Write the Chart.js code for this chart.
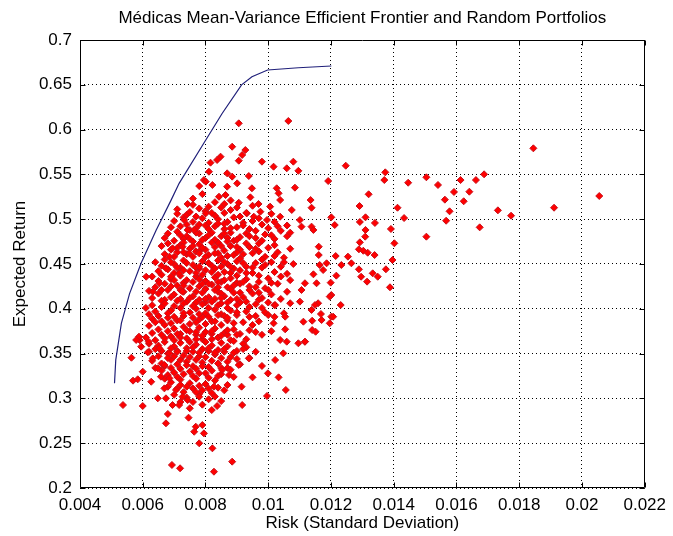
<!DOCTYPE html>
<html>
<head>
<meta charset="utf-8">
<script src="https://cdn.jsdelivr.net/npm/chart.js@4.4.1/dist/chart.umd.min.js"></script>
<style>
  html, body { margin: 0; padding: 0; background: #ffffff; }
  #c { display: block; }
</style>
</head>
<body>
<canvas id="c" width="673" height="536"></canvas>
<script>
const chartTitle = 'Médicas Mean-Variance Efficient Frontier and Random Portfolios';
const xAxisTitle = 'Risk (Standard Deviation)';
const yAxisTitle = 'Expected Return';

const xTickValues = [0.004, 0.006, 0.008, 0.010, 0.012, 0.014, 0.016, 0.018, 0.020, 0.022];
const xTickLabels = ['0.004', '0.006', '0.008', '0.01', '0.012', '0.014', '0.016', '0.018', '0.02', '0.022'];
const yTickValues = [0.2, 0.25, 0.3, 0.35, 0.4, 0.45, 0.5, 0.55, 0.6, 0.65, 0.7];
const yTickLabels = ['0.2', '0.25', '0.3', '0.35', '0.4', '0.45', '0.5', '0.55', '0.6', '0.65', '0.7'];

// Efficient frontier (risk, expected return)
const frontierRisk = [0.00510, 0.00514, 0.00532, 0.00558, 0.00595, 0.00643, 0.00690, 0.00716, 0.00795, 0.00853, 0.00915, 0.00948, 0.00998, 0.01096, 0.01201];
const frontierReturn = [0.317, 0.343, 0.384, 0.417, 0.451, 0.488, 0.521, 0.540, 0.585, 0.618, 0.650, 0.659, 0.6665, 0.669, 0.671];

// Random portfolios: sparse right-hand points
const portfoliosRight = [
[0.01096,0.554],[0.01247,0.5597],[0.01191,0.5426],[0.01373,0.5523],[0.0137,0.5437],[0.01135,0.5214],[0.01138,0.5128],[0.01291,0.5147],[0.0132,0.5278],[0.01446,0.5407],
[0.01504,0.5468],[0.01541,0.5382],[0.01592,0.5304],[0.01613,0.5437],[0.01662,0.5437],[0.01688,0.5501],[0.01641,0.5307],[0.01623,0.52],[0.01563,0.5218],[0.01578,0.5088],
[0.01567,0.4983],[0.01412,0.5128],[0.01433,0.5013],[0.01504,0.4805],[0.01674,0.4909],[0.01732,0.5099],[0.01774,0.5039],[0.01845,0.5791],[0.01911,0.5128],[0.02055,0.5259],
[0.01391,0.4891],[0.01402,0.4731],[0.01396,0.4545],[0.01375,0.4441],[0.01388,0.424],[0.0134,0.4958],[0.0131,0.5021],[0.01292,0.4969],[0.0131,0.488],[0.01309,0.4805],
[0.01292,0.4742],[0.01339,0.46],[0.01289,0.4664],[0.01303,0.4648],[0.01317,0.4626],[0.01289,0.4441],[0.01333,0.4396],[0.01349,0.4358],[0.01296,0.4358],[0.01315,0.4303],
[0.01254,0.4582],[0.01265,0.4508],[0.01233,0.4489],[0.01215,0.4589],[0.01186,0.4508],[0.01217,0.437],[0.01199,0.4292],[0.01231,0.4042],[0.01201,0.4154],[0.01161,0.4693],
[0.01161,0.46],[0.01201,0.5021],[0.01212,0.4935],[0.01138,0.4917],[0.01144,0.488],[0.01101,0.4991],[0.01106,0.4917],[0.01164,0.4489],[0.01175,0.4433],[0.01144,0.4385],
[0.01117,0.4285],[0.01154,0.4285],[0.01106,0.421],[0.01196,0.4136],[0.01138,0.3987],[0.01101,0.408],[0.01159,0.4062],[0.01201,0.3912],[0.01112,0.3856],[0.0117,0.3875],
[0.01149,0.4042],[0.01207,0.3912],[0.01196,0.3838],[0.01168,0.3942],[0.0114,0.3867],[0.0114,0.3763],[0.01151,0.3744],[0.01117,0.3633],[0.01096,0.3615]
];

// Random portfolios: lower / left outer points
const portfoliosLower = [
[0.00537,0.2926],[0.0060,0.2915],[0.00564,0.3454],[0.00569,0.3198],[0.00584,0.3213],[0.00588,0.3689],[0.00579,0.3652],[0.00595,0.3577],[0.00619,0.3633],[0.00616,0.3514],
[0.006,0.3298],[0.00632,0.3447],[0.00653,0.3559],[0.00648,0.3336],[0.00627,0.3186],[0.00658,0.3242],[0.00669,0.3112],[0.00685,0.3224],[0.00648,0.3001],[0.00674,0.3001],
[0.00695,0.2926],[0.00716,0.2926],[0.0068,0.2826],[0.00674,0.2722],[0.00746,0.2785],[0.00769,0.2684],[0.00764,0.2628],[0.0078,0.2499],[0.00693,0.2257],[0.00719,0.222],
[0.00669,0.3373],[0.00685,0.3503],[0.00706,0.3094],[0.00727,0.3019],[0.00743,0.2982],[0.0078,0.3019],[0.00837,0.2915],[0.00822,0.2443],[0.00885,0.2294],[0.00827,0.2182],
[0.00795,0.261],[0.0079,0.2703],[0.00917,0.2926],[0.00915,0.3131],[0.0095,0.3235],[0.00996,0.3027],[0.01056,0.3094],[0.01033,0.3235],[0.0098,0.3362],[0.00999,0.328],
[0.01022,0.3429],[0.01048,0.3503],[0.00853,0.3317],[0.00827,0.3131],[0.00875,0.3261],[0.00906,0.3373],[0.00938,0.3447],[0.01038,0.3652],[0.01059,0.3633],[0.01117,0.3633],
[0.01017,0.3838],[0.01054,0.3912],[0.01022,0.4042],[0.0107,0.4062],[0.01054,0.3771]
];

// Random portfolios: upper points
const portfoliosUpper = [
[0.00906,0.607],[0.01064,0.6096],[0.00885,0.5809],[0.00927,0.5772],[0.00917,0.5717],[0.00848,0.5698],[0.00837,0.5661],[0.00816,0.5631],[0.00906,0.5653],[0.0098,0.5642],
[0.01017,0.5586],[0.0108,0.5642],[0.01059,0.5568],[0.00811,0.553],[0.00869,0.5512],[0.00885,0.5475],[0.00938,0.5482],[0.00795,0.5437],[0.00822,0.5382],[0.00869,0.5363],
[0.00901,0.54],[0.00948,0.5345],[0.01027,0.5345],[0.01085,0.5352],[0.00843,0.5251],[0.00864,0.527],[0.00943,0.5244],[0.01033,0.5289],[0.00969,0.517],[0.01006,0.514],
[0.01038,0.5214],[0.00906,0.5184],[0.0088,0.5103],[0.00932,0.5066],[0.00975,0.5084],[0.01075,0.5103],[0.01038,0.5028],[0.00996,0.4991],[0.00954,0.5028],
[0.00801,0.5419],[0.0078,0.537],[0.00743,0.517],[0.00732,0.4991],[0.00801,0.5066],[0.00764,0.488],[0.00743,0.488],[0.00727,0.4693],[0.00748,0.4619],[0.00695,0.4675],
[0.00685,0.4582],[0.00674,0.4452],[0.00611,0.4358],[0.00632,0.4191],[0.00653,0.4285],[0.0069,0.4358],[0.00716,0.4396],[0.0078,0.4619],[0.0078,0.447],[0.00727,0.4191],
[0.0076,0.523],[0.0079,0.528],[0.0083,0.519],[0.0088,0.521],[0.0078,0.512],[0.0085,0.513],[0.0075,0.508],[0.0071,0.506],[0.0082,0.507],[0.0093,0.507]
];

// Random portfolios: central cloud
const portfoliosCore = [
[0.0070,0.498],[0.0073,0.502],[0.0076,0.497],[0.0079,0.501],[0.0081,0.496],[0.0084,0.500],[0.0087,0.497],[0.0089,0.502],[0.0092,0.496],[0.0095,0.498],
[0.0098,0.494],[0.0102,0.497],[0.0106,0.493],[0.0072,0.492],[0.0077,0.490],[0.0083,0.492],[0.0086,0.489],[0.0090,0.491],[0.0094,0.489],[0.0100,0.490],[0.0104,0.487],
[0.0068,0.484],[0.0071,0.486],[0.0074,0.481],[0.0078,0.484],[0.0080,0.479],[0.0082,0.485],[0.0085,0.481],[0.0088,0.485],[0.0091,0.480],[0.0093,0.484],
[0.0096,0.479],[0.0099,0.483],[0.0102,0.478],[0.0106,0.481],[0.0070,0.476],[0.0076,0.475],[0.0084,0.474],[0.0089,0.476],[0.0097,0.473],
[0.0066,0.470],[0.0069,0.466],[0.0072,0.471],[0.0075,0.467],[0.0078,0.472],[0.0080,0.466],[0.0083,0.469],[0.0086,0.465],[0.0088,0.470],[0.0091,0.466],
[0.0094,0.469],[0.0097,0.464],[0.0100,0.468],[0.0103,0.463],[0.0107,0.467],[0.0074,0.461],[0.0081,0.460],[0.0087,0.459],[0.0092,0.461],[0.0099,0.458],[0.0105,0.457],
[0.0064,0.452],[0.0067,0.455],[0.0070,0.450],[0.0073,0.454],[0.0076,0.449],[0.0079,0.453],[0.0082,0.448],[0.0084,0.454],[0.0087,0.450],[0.0090,0.453],
[0.0093,0.447],[0.0096,0.451],[0.0098,0.446],[0.0101,0.452],[0.0104,0.447],[0.0108,0.450],[0.0068,0.444],[0.0075,0.442],[0.0080,0.443],[0.0086,0.441],
[0.0091,0.443],[0.0095,0.440],[0.0102,0.441],[0.0106,0.439],
[0.0063,0.436],[0.0066,0.438],[0.0069,0.433],[0.0072,0.437],[0.0074,0.432],[0.0077,0.436],[0.0080,0.431],[0.0083,0.435],[0.0085,0.430],[0.0088,0.434],
[0.0090,0.429],[0.0093,0.433],[0.0097,0.430],[0.0100,0.434],[0.0103,0.428],[0.0107,0.432],[0.0071,0.426],[0.0078,0.425],[0.0082,0.427],[0.0087,0.424],[0.0094,0.425],[0.0099,0.423],
[0.0062,0.420],[0.0065,0.417],[0.0068,0.421],[0.0070,0.416],[0.0073,0.419],[0.0076,0.414],[0.0079,0.418],[0.0081,0.413],[0.0084,0.419],[0.0086,0.414],
[0.0089,0.418],[0.0092,0.413],[0.0095,0.417],[0.0098,0.412],[0.0101,0.416],[0.0104,0.411],[0.0067,0.410],[0.0074,0.408],[0.0080,0.407],[0.0085,0.406],
[0.0091,0.407],[0.0096,0.405],[0.0102,0.404],
[0.0061,0.401],[0.0064,0.397],[0.0066,0.402],[0.0069,0.398],[0.0072,0.401],[0.0075,0.396],[0.0077,0.400],[0.0080,0.395],[0.0083,0.399],[0.0085,0.394],
[0.0088,0.398],[0.0090,0.393],[0.0093,0.397],[0.0096,0.392],[0.0099,0.396],[0.0102,0.391],[0.0105,0.395],[0.0063,0.389],[0.0068,0.390],[0.0071,0.387],
[0.0078,0.388],[0.0082,0.386],[0.0087,0.387],[0.0092,0.385],[0.0097,0.386],
[0.0062,0.381],[0.0065,0.377],[0.0067,0.382],[0.0070,0.378],[0.0073,0.380],[0.0075,0.375],[0.0078,0.379],[0.0080,0.374],[0.0083,0.378],[0.0086,0.373],
[0.0089,0.377],[0.0091,0.372],[0.0094,0.376],[0.0098,0.371],[0.0101,0.375],[0.0069,0.369],[0.0074,0.367],[0.0079,0.366],[0.0084,0.368],[0.0088,0.365],[0.0093,0.366],
[0.0059,0.365],[0.0062,0.361],[0.0065,0.359],[0.0067,0.363],[0.0070,0.358],[0.0072,0.362],[0.0074,0.356],[0.0077,0.360],[0.0079,0.355],[0.0082,0.359],
[0.0084,0.354],[0.0087,0.358],[0.0090,0.353],[0.0093,0.357],[0.0096,0.352],[0.0062,0.352],[0.0068,0.350],[0.0073,0.348],[0.0078,0.347],[0.0083,0.349],
[0.0088,0.346],[0.0094,0.345],
[0.0063,0.342],[0.0066,0.339],[0.0069,0.343],[0.0071,0.338],[0.0074,0.341],[0.0076,0.336],[0.0079,0.340],[0.0081,0.335],[0.0084,0.339],[0.0087,0.334],
[0.0091,0.338],[0.0066,0.331],[0.0070,0.329],[0.0075,0.330],[0.0080,0.328],[0.0085,0.327],[0.0064,0.334],
[0.0067,0.322],[0.0069,0.318],[0.0072,0.321],[0.0075,0.317],[0.0077,0.322],[0.0080,0.316],[0.0083,0.320],[0.0071,0.311],[0.0074,0.313],[0.0079,0.309],
[0.0084,0.312],[0.0087,0.315],[0.0070,0.304],[0.0074,0.301],[0.0078,0.305],[0.0081,0.299],[0.0076,0.296],[0.0083,0.302],
[0.0074,0.494],[0.0080,0.493],[0.0086,0.495],[0.0073,0.478],[0.0079,0.477],[0.0087,0.479],[0.0071,0.463],[0.0077,0.464],[0.0084,0.462],[0.0090,0.463],
[0.0072,0.446],[0.0078,0.445],[0.0085,0.447],[0.0089,0.445],[0.0073,0.429],[0.0079,0.428],[0.0084,0.430],[0.0091,0.428],[0.0072,0.411],[0.0078,0.410],
[0.0083,0.411],[0.0088,0.410],[0.0073,0.392],[0.0079,0.391],[0.0086,0.392],[0.0072,0.372],[0.0077,0.371],[0.0082,0.372],[0.0087,0.371],[0.0071,0.353],
[0.0076,0.352],[0.0081,0.353],[0.0086,0.352]
];

// Random portfolios: densest part of the cloud
const portfoliosDense = [
[0.0076,0.516],[0.0081,0.514],[0.0086,0.517],[0.0090,0.513],[0.0095,0.515],
[0.0071,0.511],[0.0074,0.505],[0.0077,0.503],[0.0080,0.509],[0.0083,0.504],[0.0086,0.507],[0.0091,0.503],[0.0097,0.501],[0.0101,0.506],
[0.0069,0.491],[0.0075,0.488],[0.0078,0.494],[0.0081,0.489],[0.0084,0.495],[0.0088,0.490],[0.0092,0.493],[0.0096,0.487],[0.0103,0.492],[0.0107,0.485],
[0.0067,0.479],[0.0072,0.482],[0.0075,0.478],[0.0077,0.485],[0.0081,0.482],[0.0083,0.477],[0.0086,0.484],[0.0090,0.477],[0.0094,0.481],[0.0098,0.476],[0.0101,0.482],
[0.0068,0.473],[0.0071,0.468],[0.0073,0.474],[0.0076,0.470],[0.0079,0.468],[0.0082,0.474],[0.0085,0.470],[0.0087,0.475],[0.0090,0.469],[0.0093,0.473],[0.0096,0.467],[0.0102,0.471],
[0.0067,0.461],[0.0070,0.458],[0.0073,0.463],[0.0076,0.458],[0.0078,0.464],[0.0080,0.458],[0.0083,0.462],[0.0085,0.457],[0.0089,0.460],[0.0091,0.456],[0.0095,0.462],[0.0098,0.455],[0.0102,0.459],
[0.0066,0.448],[0.0069,0.452],[0.0071,0.446],[0.0074,0.451],[0.0077,0.446],[0.0081,0.451],[0.0083,0.445],[0.0086,0.452],[0.0088,0.447],[0.0092,0.451],[0.0095,0.446],[0.0099,0.449],[0.0105,0.452],
[0.0065,0.442],[0.0070,0.440],[0.0073,0.443],[0.0077,0.440],[0.0079,0.438],[0.0082,0.441],[0.0084,0.438],[0.0088,0.440],[0.0090,0.437],[0.0093,0.440],[0.0097,0.437],[0.0104,0.436],
[0.0065,0.431],[0.0067,0.428],[0.0070,0.432],[0.0073,0.426],[0.0076,0.430],[0.0078,0.433],[0.0081,0.428],[0.0084,0.424],[0.0086,0.432],[0.0089,0.426],[0.0092,0.430],[0.0096,0.424],[0.0101,0.429],
[0.0064,0.424],[0.0066,0.421],[0.0069,0.425],[0.0072,0.421],[0.0075,0.423],[0.0077,0.419],[0.0080,0.422],[0.0083,0.421],[0.0085,0.417],[0.0088,0.422],[0.0091,0.418],[0.0094,0.421],[0.0097,0.418],[0.0100,0.421],[0.0106,0.419],
[0.0063,0.412],[0.0066,0.409],[0.0069,0.413],[0.0071,0.409],[0.0075,0.412],[0.0077,0.407],[0.0080,0.411],[0.0082,0.408],[0.0085,0.412],[0.0087,0.407],[0.0090,0.411],[0.0093,0.408],[0.0097,0.410],[0.0100,0.407],
[0.0063,0.404],[0.0067,0.406],[0.0070,0.403],[0.0073,0.406],[0.0076,0.403],[0.0079,0.405],[0.0081,0.401],[0.0084,0.404],[0.0087,0.401],[0.0090,0.404],[0.0094,0.402],[0.0098,0.401],
[0.0062,0.394],[0.0065,0.392],[0.0068,0.395],[0.0070,0.391],[0.0073,0.395],[0.0076,0.390],[0.0078,0.394],[0.0081,0.391],[0.0084,0.393],[0.0087,0.390],[0.0090,0.396],[0.0094,0.391],[0.0100,0.393],
[0.0064,0.385],[0.0066,0.386],[0.0069,0.384],[0.0072,0.387],[0.0075,0.383],[0.0077,0.385],[0.0080,0.383],[0.0083,0.386],[0.0085,0.382],[0.0089,0.384],[0.0095,0.382],
[0.0063,0.373],[0.0066,0.371],[0.0068,0.375],[0.0071,0.372],[0.0074,0.376],[0.0077,0.374],[0.0079,0.370],[0.0082,0.375],[0.0085,0.370],[0.0087,0.376],[0.0090,0.371],[0.0096,0.374],
[0.0061,0.368],[0.0064,0.365],[0.0067,0.367],[0.0070,0.365],[0.0072,0.368],[0.0075,0.363],[0.0077,0.366],[0.0080,0.363],[0.0082,0.366],[0.0085,0.362],[0.0089,0.364],[0.0092,0.361],
[0.0064,0.355],[0.0066,0.353],[0.0069,0.356],[0.0071,0.352],[0.0074,0.353],[0.0076,0.357],[0.0078,0.351],[0.0081,0.356],[0.0083,0.351],[0.0086,0.355],[0.0089,0.351],[0.0092,0.355],
[0.0065,0.347],[0.0068,0.345],[0.0070,0.347],[0.0072,0.343],[0.0075,0.346],[0.0077,0.343],[0.0080,0.346],[0.0082,0.342],[0.0085,0.345],[0.0087,0.341],[0.0090,0.344],
[0.0067,0.336],[0.0069,0.334],[0.0072,0.333],[0.0074,0.337],[0.0077,0.333],[0.0079,0.336],[0.0082,0.331],[0.0085,0.334],[0.0088,0.332],
[0.0068,0.326],[0.0071,0.324],[0.0073,0.327],[0.0076,0.325],[0.0078,0.328],[0.0081,0.323],[0.0084,0.325],[0.0089,0.324],
[0.0068,0.313],[0.0072,0.315],[0.0076,0.311],[0.0078,0.314],[0.0081,0.311],[0.0086,0.309],[0.0082,0.306],[0.0077,0.307],[0.0073,0.307],
[0.0072,0.296],[0.0079,0.293],[0.0085,0.297],[0.0075,0.289],[0.0082,0.287]
];

const FONT = '"Liberation Sans", Arial, Helvetica, sans-serif';

const toXY = arr => arr.map(p => ({ x: p[0], y: p[1] }));
const portfolioPoints = [].concat(toXY(portfoliosCore), toXY(portfoliosDense), toXY(portfoliosUpper), toXY(portfoliosLower), toXY(portfoliosRight));
const frontierPoints = frontierRisk.map((r, i) => ({ x: r, y: frontierReturn[i] }));

const matlabFrame = {
  id: 'matlabFrame',
  afterDatasetsDraw(chart) {
    const { ctx, chartArea: a, scales: { x, y } } = chart;
    const L = Math.round(a.left) + 0.5, R = Math.round(a.right) - 0.5;
    const T = Math.round(a.top) + 0.5, B = Math.round(a.bottom) - 0.5;
    ctx.save();
    ctx.strokeStyle = '#000';
    ctx.lineWidth = 1;
    ctx.beginPath();
    ctx.rect(L, T, R - L, B - T);
    const tl = 5;
    xTickValues.forEach(v => {
      const px = Math.round(x.getPixelForValue(v)) + 0.5;
      ctx.moveTo(px, B); ctx.lineTo(px, B - tl);
      ctx.moveTo(px, T); ctx.lineTo(px, T + tl);
    });
    yTickValues.forEach(v => {
      const py = Math.round(y.getPixelForValue(v)) + 0.5;
      ctx.moveTo(L, py); ctx.lineTo(L + tl, py);
      ctx.moveTo(R, py); ctx.lineTo(R - tl, py);
    });
    ctx.stroke();
    ctx.restore();
  },
  afterDraw(chart) {
    const { ctx, chartArea: a } = chart;
    ctx.save();
    ctx.fillStyle = '#000';
    ctx.font = '17px ' + FONT;
    ctx.textAlign = 'center';
    ctx.textBaseline = 'middle';
    ctx.fillText(chartTitle, (a.left + a.right) / 2, 18);
    ctx.restore();
  }
};

new Chart(document.getElementById('c'), {
  type: 'scatter',
  data: {
    datasets: [
      {
        label: 'Random Portfolios',
        data: portfolioPoints,
        pointStyle: 'rectRot',
        pointRadius: 3.5,
        pointBackgroundColor: '#ff0000',
        pointBorderColor: '#c8101a',
        pointBorderWidth: 1,
        showLine: false,
        order: 2
      },
      {
        label: 'Efficient Frontier',
        data: frontierPoints,
        showLine: true,
        borderColor: '#20207a',
        borderWidth: 1.2,
        pointRadius: 0,
        tension: 0,
        fill: false,
        order: 1
      }
    ]
  },
  options: {
    responsive: false,
    devicePixelRatio: 1,
    animation: false,
    layout: { padding: { top: 40, right: 24, bottom: 0, left: 0 } },
    plugins: { legend: { display: false }, tooltip: { enabled: false }, title: { display: false } },
    scales: {
      x: {
        type: 'linear',
        min: 0.004, max: 0.022,
        afterBuildTicks: s => { s.ticks = xTickValues.map(v => ({ value: v })); },
        afterFit: s => { s.height = 48; },
        ticks: {
          color: '#000',
          font: { family: FONT, size: 17 },
          padding: 7,
          maxRotation: 0,
          autoSkip: false,
          callback: (v, i) => xTickLabels[i]
        },
        grid: { color: '#000', lineWidth: 1, drawTicks: false },
        border: { display: false, dash: [1, 3] },
        title: { display: true, text: xAxisTitle, color: '#000', font: { family: FONT, size: 17 }, padding: { top: 0, bottom: 2 } }
      },
      y: {
        type: 'linear',
        min: 0.2, max: 0.7,
        afterBuildTicks: s => { s.ticks = yTickValues.map(v => ({ value: v })); },
        afterFit: s => { s.width = 80; },
        ticks: {
          color: '#000',
          font: { family: FONT, size: 17 },
          padding: 8,
          autoSkip: false,
          callback: (v, i) => yTickLabels[i]
        },
        grid: { color: '#000', lineWidth: 1, drawTicks: false },
        border: { display: false, dash: [1, 3] },
        title: { display: true, text: yAxisTitle, color: '#000', font: { family: FONT, size: 17 }, padding: { top: 10, bottom: 0 } }
      }
    }
  },
  plugins: [matlabFrame]
});
</script>
</body>
</html>
